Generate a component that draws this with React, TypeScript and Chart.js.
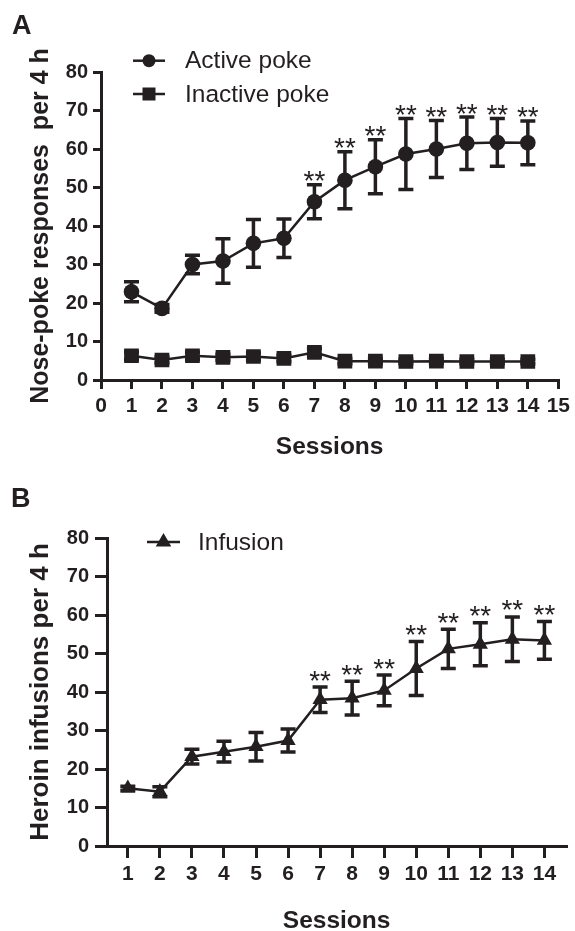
import React, { useEffect, useRef } from 'react';
import { Chart, registerables } from 'chart.js';

Chart.register(...registerables);

// ---------- data ----------
const SESSIONS = [1, 2, 3, 4, 5, 6, 7, 8, 9, 10, 11, 12, 13, 14];

const ACTIVE_MEAN = [22.9, 18.6, 30.0, 30.9, 35.5, 36.8, 46.3, 51.9, 55.4, 58.7, 60.0, 61.5, 61.7, 61.6];
const ACTIVE_SEM = [2.6, 1.0, 2.4, 5.8, 6.2, 5.0, 4.4, 7.4, 7.0, 9.2, 7.4, 6.8, 6.2, 5.7];
const ACTIVE_SIG = ['', '', '', '', '', '', '**', '**', '**', '**', '**', '**', '**', '**'];

const INACTIVE_MEAN = [6.3, 5.2, 6.3, 5.9, 6.1, 5.6, 7.2, 4.9, 4.9, 4.8, 4.9, 4.8, 4.8, 4.8];
const INACTIVE_SEM = [1.0, 0.8, 0.9, 0.8, 0.9, 0.8, 1.0, 0.7, 0.7, 0.6, 0.7, 0.6, 0.6, 0.6];

const INFUSION_MEAN = [15.0, 14.1, 23.2, 24.5, 25.8, 27.4, 38.0, 38.4, 40.4, 46.1, 51.2, 52.4, 53.7, 53.4];
const INFUSION_SEM = [0.5, 1.3, 1.9, 2.7, 3.7, 3.0, 3.3, 4.4, 4.0, 7.0, 5.1, 5.6, 5.8, 4.9];
const INFUSION_SIG = ['', '', '', '', '', '', '**', '**', '**', '**', '**', '**', '**', '**'];

const Y_TICKS = [0, 10, 20, 30, 40, 50, 60, 70, 80];
const A_X_TICKS = [0, 1, 2, 3, 4, 5, 6, 7, 8, 9, 10, 11, 12, 13, 14, 15];
const B_X_TICKS = [1, 2, 3, 4, 5, 6, 7, 8, 9, 10, 11, 12, 13, 14];

const A_LEGEND = ['Active poke', 'Inactive poke'];
const B_LEGEND = ['Infusion'];

// ---------- style ----------
const INK = '#231f20';
const FONT = "'Liberation Sans', Arial, Helvetica, sans-serif";

function drawMarker(ctx: CanvasRenderingContext2D, style: string, x: number, y: number, r: number) {
  ctx.beginPath();
  if (style === 'circle') {
    ctx.arc(x, y, r, 0, Math.PI * 2);
  } else if (style === 'rect') {
    ctx.rect(x - r, y - r, 2 * r, 2 * r);
  } else {
    ctx.moveTo(x, y - r);
    ctx.lineTo(x + r * 0.866, y + r * 0.5);
    ctx.lineTo(x - r * 0.866, y + r * 0.5);
    ctx.closePath();
  }
  ctx.fill();
}

type Decor = {
  panel: string;
  panelX: number;
  panelY: number;
  legend: { text: string; style: string; r: number; y: number }[];
  legX1: number;
  legX2: number;
  legTextX: number;
  capHalf: number;
  starGap: number;
};

function makeDecor(cfg: Decor) {
  return {
    id: 'decor' + cfg.panel,
    beforeDatasetsDraw(chart: any) {
      const ctx = chart.ctx as CanvasRenderingContext2D;
      const xs = chart.scales.x;
      const ys = chart.scales.y;
      chart.data.datasets.forEach((ds: any) => {
        if (!ds.errors) return;
        ctx.save();
        ctx.strokeStyle = INK;
        ctx.lineWidth = 3.5;
        ds.data.forEach((p: any, i: number) => {
          const e = ds.errors[i];
          const x = xs.getPixelForValue(p.x);
          const yt = ys.getPixelForValue(p.y + e);
          const yb = ys.getPixelForValue(p.y - e);
          ctx.beginPath();
          ctx.moveTo(x, yt);
          ctx.lineTo(x, yb);
          ctx.moveTo(x - cfg.capHalf, yt);
          ctx.lineTo(x + cfg.capHalf, yt);
          ctx.moveTo(x - cfg.capHalf, yb);
          ctx.lineTo(x + cfg.capHalf, yb);
          ctx.stroke();
        });
        ctx.restore();
      });
    },
    afterDatasetsDraw(chart: any) {
      const ctx = chart.ctx as CanvasRenderingContext2D;
      const xs = chart.scales.x;
      const ys = chart.scales.y;
      chart.data.datasets.forEach((ds: any) => {
        if (!ds.sig) return;
        ctx.save();
        ctx.fillStyle = INK;
        ctx.font = `28px ${FONT}`;
        ctx.textAlign = 'center';
        ctx.textBaseline = 'alphabetic';
        ds.data.forEach((p: any, i: number) => {
          const s = ds.sig[i];
          if (!s) return;
          const x = xs.getPixelForValue(p.x);
          const yt = ys.getPixelForValue(p.y + ds.errors[i]);
          ctx.fillText(s, x, yt - cfg.starGap + 0.43 * 28);
        });
        ctx.restore();
      });
    },
    afterDraw(chart: any) {
      const ctx = chart.ctx as CanvasRenderingContext2D;
      ctx.save();
      ctx.fillStyle = INK;
      ctx.font = `bold 27px ${FONT}`;
      ctx.textAlign = 'left';
      ctx.textBaseline = 'alphabetic';
      ctx.fillText(cfg.panel, cfg.panelX, cfg.panelY);
      cfg.legend.forEach((it) => {
        ctx.strokeStyle = INK;
        ctx.lineWidth = 2.5;
        ctx.beginPath();
        ctx.moveTo(cfg.legX1, it.y);
        ctx.lineTo(cfg.legX2, it.y);
        ctx.stroke();
        ctx.fillStyle = INK;
        drawMarker(ctx, it.style, (cfg.legX1 + cfg.legX2) / 2, it.y, it.r);
        ctx.font = `24.5px ${FONT}`;
        ctx.textBaseline = 'middle';
        ctx.fillText(it.text, cfg.legTextX, it.y + 1);
      });
      ctx.restore();
    },
  };
}

function series(xs: number[], ys: number[]) {
  return xs.map((x, i) => ({ x, y: ys[i] }));
}

type AxisCfg = {
  xMin: number;
  xMax: number;
  xTicks: number[];
  yTitle: string;
  yTitleSize: number;
  yWidth: number;
  xHeight: number;
  yTickLen: number;
  yTickPad: number;
  xTickLen: number;
  xTickPad: number;
  sessionsPad: number;
};

function buildOptions(a: AxisCfg, padding: any) {
  return {
    responsive: false,
    maintainAspectRatio: false,
    animation: false,
    layout: { padding },
    plugins: { legend: { display: false }, tooltip: { enabled: false } },
    scales: {
      x: {
        type: 'linear',
        min: a.xMin,
        max: a.xMax,
        afterBuildTicks: (s: any) => {
          s.ticks = a.xTicks.map((v) => ({ value: v }));
        },
        afterFit: (s: any) => {
          s.height = a.xHeight;
        },
        border: { display: true, width: 3, color: INK },
        grid: { display: true, drawOnChartArea: false, drawTicks: true, tickLength: a.xTickLen, lineWidth: 3, color: INK },
        ticks: {
          color: INK,
          padding: a.xTickPad,
          autoSkip: false,
          maxRotation: 0,
          font: { family: FONT, size: 21, weight: 'bold' },
          callback: (v: any) => String(v),
        },
        title: {
          display: true,
          text: 'Sessions',
          color: INK,
          font: { family: FONT, size: 24.5, weight: 'bold' },
          padding: { top: 0, bottom: a.sessionsPad },
        },
      },
      y: {
        type: 'linear',
        min: 0,
        max: 80,
        afterBuildTicks: (s: any) => {
          s.ticks = Y_TICKS.map((v) => ({ value: v }));
        },
        afterFit: (s: any) => {
          s.width = a.yWidth;
        },
        border: { display: true, width: 3, color: INK },
        grid: { display: true, drawOnChartArea: false, drawTicks: true, tickLength: a.yTickLen, lineWidth: 3, color: INK },
        ticks: {
          color: INK,
          padding: a.yTickPad,
          font: { family: FONT, size: 20, weight: 'bold' },
          callback: (v: any) => String(v),
        },
        title: {
          display: true,
          text: a.yTitle,
          color: INK,
          font: { family: FONT, size: a.yTitleSize, weight: 'bold' },
          padding: { top: 41 - a.yTitleSize * 0.6, bottom: 0 },
        },
      },
    },
  };
}

export default function App() {
  const refA = useRef<HTMLCanvasElement>(null);
  const refB = useRef<HTMLCanvasElement>(null);

  useEffect(() => {
    const chartA = new Chart(refA.current as HTMLCanvasElement, {
      type: 'line',
      data: {
        datasets: [
          {
            label: A_LEGEND[0],
            data: series(SESSIONS, ACTIVE_MEAN),
            errors: ACTIVE_SEM,
            sig: ACTIVE_SIG,
            borderColor: INK,
            backgroundColor: INK,
            borderWidth: 2.5,
            pointStyle: 'circle',
            pointRadius: 7.8,
            pointBorderWidth: 0,
            pointBackgroundColor: INK,
            tension: 0,
          } as any,
          {
            label: A_LEGEND[1],
            data: series(SESSIONS, INACTIVE_MEAN),
            errors: INACTIVE_SEM,
            borderColor: INK,
            backgroundColor: INK,
            borderWidth: 2.5,
            pointStyle: 'rect',
            pointRadius: 10.4,
            pointBorderWidth: 0,
            pointBackgroundColor: INK,
            tension: 0,
          } as any,
        ],
      },
      options: buildOptions(
        {
          xMin: 0,
          xMax: 15,
          xTicks: A_X_TICKS,
          yTitle: 'Nose-poke responses  per 4 h',
          yTitleSize: 25,
          yWidth: 101,
          xHeight: 100,
          yTickLen: 8,
          yTickPad: 5,
          xTickLen: 9,
          xTickPad: 5,
          sessionsPad: 18,
        },
        { top: 72, right: 12, left: 0, bottom: 0 }
      ) as any,
      plugins: [
        makeDecor({
          panel: 'A',
          panelX: 12,
          panelY: 34,
          legend: [
            { text: A_LEGEND[0], style: 'circle', r: 6.5, y: 60.7 },
            { text: A_LEGEND[1], style: 'rect', r: 6.5, y: 94 },
          ],
          legX1: 133,
          legX2: 165,
          legTextX: 185,
          capHalf: 7.5,
          starGap: 6.5,
        }),
      ],
    });

    const chartB = new Chart(refB.current as HTMLCanvasElement, {
      type: 'line',
      data: {
        datasets: [
          {
            label: B_LEGEND[0],
            data: series(SESSIONS, INFUSION_MEAN),
            errors: INFUSION_SEM,
            sig: INFUSION_SIG,
            borderColor: INK,
            backgroundColor: INK,
            borderWidth: 2.5,
            pointStyle: 'triangle',
            pointRadius: 8.8,
            pointBorderWidth: 0,
            pointBackgroundColor: INK,
            tension: 0,
          } as any,
        ],
      },
      options: buildOptions(
        {
          xMin: 0.35,
          xMax: 14.68,
          xTicks: B_X_TICKS,
          yTitle: 'Heroin infusions per 4 h',
          yTitleSize: 26,
          yWidth: 107,
          xHeight: 94,
          yTickLen: 12,
          yTickPad: 6,
          xTickLen: 12,
          xTickPad: 4,
          sessionsPad: 4,
        },
        { top: 58, right: 5, left: 0, bottom: 0 }
      ) as any,
      plugins: [
        makeDecor({
          panel: 'B',
          panelX: 11,
          panelY: 27,
          legend: [{ text: B_LEGEND[0], style: 'triangle', r: 9, y: 62 }],
          legX1: 147,
          legX2: 180,
          legTextX: 198,
          capHalf: 7.5,
          starGap: 9.5,
        }),
      ],
    });

    return () => {
      chartA.destroy();
      chartB.destroy();
    };
  }, []);

  return (
    <div
      style={{
        position: 'absolute',
        left: 0,
        top: 0,
        width: 575,
        height: 931,
        overflow: 'hidden',
        background: '#ffffff',
      }}
    >
      <canvas ref={refA} width={575} height={480} style={{ position: 'absolute', left: 0, top: 0 }} />
      <canvas ref={refB} width={575} height={460} style={{ position: 'absolute', left: 0, top: 480 }} />
    </div>
  );
}
